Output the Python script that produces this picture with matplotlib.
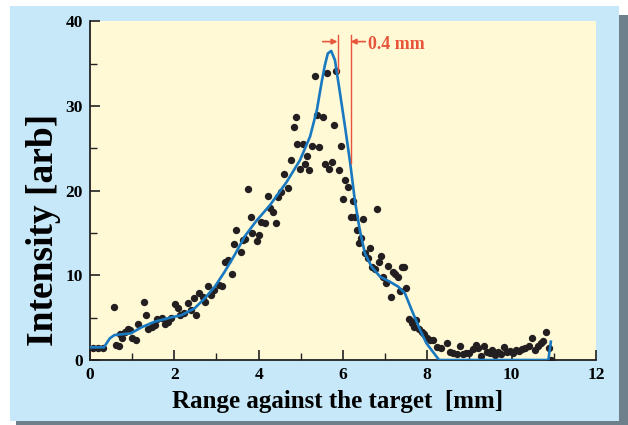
import matplotlib
matplotlib.use("Agg")
import matplotlib.pyplot as plt
from matplotlib.patches import Rectangle

# measured points (range [mm], intensity [arb])
range_mm = [0.07, 0.2, 0.32, 0.57, 0.62, 0.69, 0.72, 0.77, 0.83, 0.89, 0.95, 1.0, 1.08,
            1.15, 1.29, 1.32, 1.38, 1.46, 1.53, 1.6, 1.7, 1.77, 1.86, 1.92, 2.02, 2.08,
            2.14, 2.24, 2.32, 2.39, 2.46, 2.52, 2.59, 2.67, 2.73, 2.81, 2.88, 2.95, 3.05,
            3.14, 3.21, 3.28, 3.36, 3.41, 3.47, 3.57, 3.62, 3.68, 3.74, 3.81, 3.85, 3.95,
            4.0, 4.05, 4.14, 4.21, 4.28, 4.33, 4.42, 4.47, 4.52, 4.6, 4.69, 4.76, 4.83,
            4.88, 4.92, 4.98, 5.04, 5.09, 5.14, 5.19, 5.26, 5.33, 5.38, 5.44, 5.52, 5.57,
            5.62, 5.67, 5.73, 5.78, 5.83, 5.9, 5.95, 6.0, 6.04, 6.12, 6.18, 6.23, 6.28,
            6.33, 6.37, 6.42, 6.47, 6.52, 6.59, 6.63, 6.69, 6.75, 6.8, 6.85, 6.9, 6.94,
            7.01, 7.06, 7.13, 7.18, 7.23, 7.3, 7.35, 7.4, 7.45, 7.49, 7.56, 7.63, 7.68,
            7.73, 7.8, 7.87, 7.92, 7.99, 8.06, 8.13, 8.23, 8.32, 8.47, 8.53, 8.61, 8.7,
            8.78, 8.84, 8.92, 8.99, 9.08, 9.16, 9.21, 9.27, 9.35, 9.42, 9.48, 9.54, 9.6,
            9.68, 9.75, 9.82, 9.89, 9.96, 10.03, 10.11, 10.18, 10.24, 10.32, 10.41, 10.49,
            10.56, 10.63, 10.7, 10.74, 10.81, 10.89, 10.94]
intensity = [1.4, 1.4, 1.4, 6.3, 1.8, 1.6, 3.1, 2.6, 3.3, 3.7, 3.5, 2.6, 2.4,
             4.3, 6.8, 5.3, 3.7, 3.9, 4.1, 4.9, 5.0, 4.3, 4.5, 5.0, 6.6, 6.1,
             5.3, 5.5, 6.7, 5.9, 7.3, 5.3, 7.9, 7.4, 6.9, 8.7, 7.7, 8.3, 8.9,
             8.7, 11.6, 11.8, 10.2, 13.7, 15.4, 12.8, 14.2, 14.3, 20.2, 16.9, 15.0, 14.0,
             14.8, 16.3, 16.2, 19.4, 17.9, 17.5, 16.2, 19.3, 19.8, 22.0, 20.3, 23.6, 27.5,
             28.7, 25.5, 22.6, 25.5, 23.1, 24.1, 22.4, 25.3, 33.5, 28.9, 25.1, 28.7, 23.2,
             33.9, 22.6, 23.4, 27.8, 34.1, 22.4, 25.3, 19.0, 21.3, 20.4, 16.9, 18.8, 16.9,
             15.3, 13.8, 14.4, 16.6, 12.6, 12.0, 13.2, 11.0, 10.8, 17.8, 11.6, 12.3, 9.8,
             9.1, 11.1, 7.5, 10.4, 10.2, 9.8, 8.1, 11.0, 11.0, 8.5, 4.8, 4.4, 3.9,
             4.7, 3.7, 3.3, 3.1, 2.6, 2.4, 2.4, 1.5, 1.4, 2.0, 1.0, 0.87, 0.7,
             1.6, 0.7, 0.8, 0.87, 1.3, 1.8, 1.4, 0.5, 1.6, 1.0, 0.8, 1.2, 0.6,
             0.9, 0.7, 1.5, 0.9, 1.1, 0.8, 1.2, 1.1, 1.3, 1.4, 1.65, 2.6,
             1.2, 1.6, 2.0, 2.2, 3.3, 1.4, 0.0]

# fitted curve
fit_x = [0.03, 0.33, 0.47, 0.58, 0.97, 1.22, 1.53, 1.93, 2.17, 2.48, 2.72, 2.96, 3.19,
         3.43, 3.67, 3.94, 4.27, 4.66, 4.98, 5.22, 5.38, 5.49, 5.57, 5.64, 5.72, 5.81,
         5.93, 6.05, 6.17, 6.28, 6.4, 6.52, 6.68, 6.88, 7.11, 7.31, 7.47, 7.63, 7.83,
         7.98, 8.28, 10.87, 10.93]
fit_y = [1.5, 1.5, 2.56, 2.95, 3.15, 3.86, 4.52, 5.04, 5.3, 6.1, 7.28, 8.66, 10.4,
         12.4, 14.6, 16.4, 18.3, 21.0, 23.6, 26.4, 29.5, 32.7, 34.8, 36.2, 36.5, 35.4,
         31.5, 27.5, 23.3, 18.9, 15.3, 12.6, 11.0, 9.84, 9.25, 8.66, 7.87, 5.9, 3.54,
         1.97, 0.0, 0.0, 2.16]

RED = "#e8553a"
BLUE = "#1878c0"
DOT = "#231f20"

plt.rcParams['font.family'] = ['Liberation Serif', 'DejaVu Serif']
plt.rcParams['font.weight'] = 'bold'

fig = plt.figure(figsize=(6.28, 4.25), dpi=100)
fig.patch.set_facecolor("white")

# shadow + blue panel behind the axes
fig.patches.append(Rectangle((0.0255, 0.0), 0.9745, 0.9647, transform=fig.transFigure,
                             facecolor="#6e808c", edgecolor="none", zorder=-2))
fig.patches.append(Rectangle((0.0159, 0.0094), 0.9697, 0.9765, transform=fig.transFigure,
                             facecolor="#c6e8f8", edgecolor="none", zorder=-1))

ax = fig.add_axes([0.1433, 0.1529, 0.8057, 0.797])
ax.set_facecolor("#fff9d6")

ax.plot(range_mm, intensity, 'o', color=DOT, markersize=5.3, markeredgewidth=0, zorder=3)
ax.plot(fit_x, fit_y, color=BLUE, linewidth=1.9, zorder=4)

ax.set_xlim(0, 12)
ax.set_ylim(0, 40)
ax.set_xticks([0, 2, 4, 6, 8, 10, 12])
ax.set_xticks([1, 3, 5, 7, 9, 11], minor=True)
ax.set_yticks([0, 10, 20, 30, 40])
ax.set_yticks([5, 15, 25, 35], minor=True)

for s in ['top', 'right']:
    ax.spines[s].set_visible(False)
for s in ['left', 'bottom']:
    ax.spines[s].set_color("#222222")
    ax.spines[s].set_linewidth(1.3)

ax.tick_params(which='major', direction='in', length=7.2, width=1.2, color="#222222",
               labelsize=12.5, pad=5)
ax.tick_params(which='minor', direction='in', length=5, width=1.0, color="#222222")
for lab in ax.get_xticklabels() + ax.get_yticklabels():
    lab.set_fontweight('bold')

ax.set_xlabel("Range against the target  [mm]", fontsize=18, fontweight='bold')
ax.xaxis.set_label_coords(0.49, -0.088)
ax.set_ylabel("Intensity [arb]", fontsize=27, fontweight='bold')
ax.yaxis.set_label_coords(-0.057, 0.384)

# 0.4 mm annotation
ax.plot([5.87, 5.87], [34.0, 38.4], color=RED, linewidth=1.0, zorder=5)
ax.plot([6.18, 6.18], [23.3, 38.4], color=RED, linewidth=1.0, zorder=5)
ax.annotate("", xy=(5.87, 37.6), xytext=(5.52, 37.6),
            arrowprops=dict(arrowstyle="-|>", color=RED, lw=1.2, mutation_scale=8,
                            shrinkA=0, shrinkB=0))
ax.annotate("", xy=(6.18, 37.6), xytext=(6.53, 37.6),
            arrowprops=dict(arrowstyle="-|>", color=RED, lw=1.2, mutation_scale=8,
                            shrinkA=0, shrinkB=0))
ax.text(6.59, 37.3, "0.4 mm", color=RED, fontsize=13, fontweight='bold',
        ha='left', va='center')

fig.savefig("out.png", dpi=100)
